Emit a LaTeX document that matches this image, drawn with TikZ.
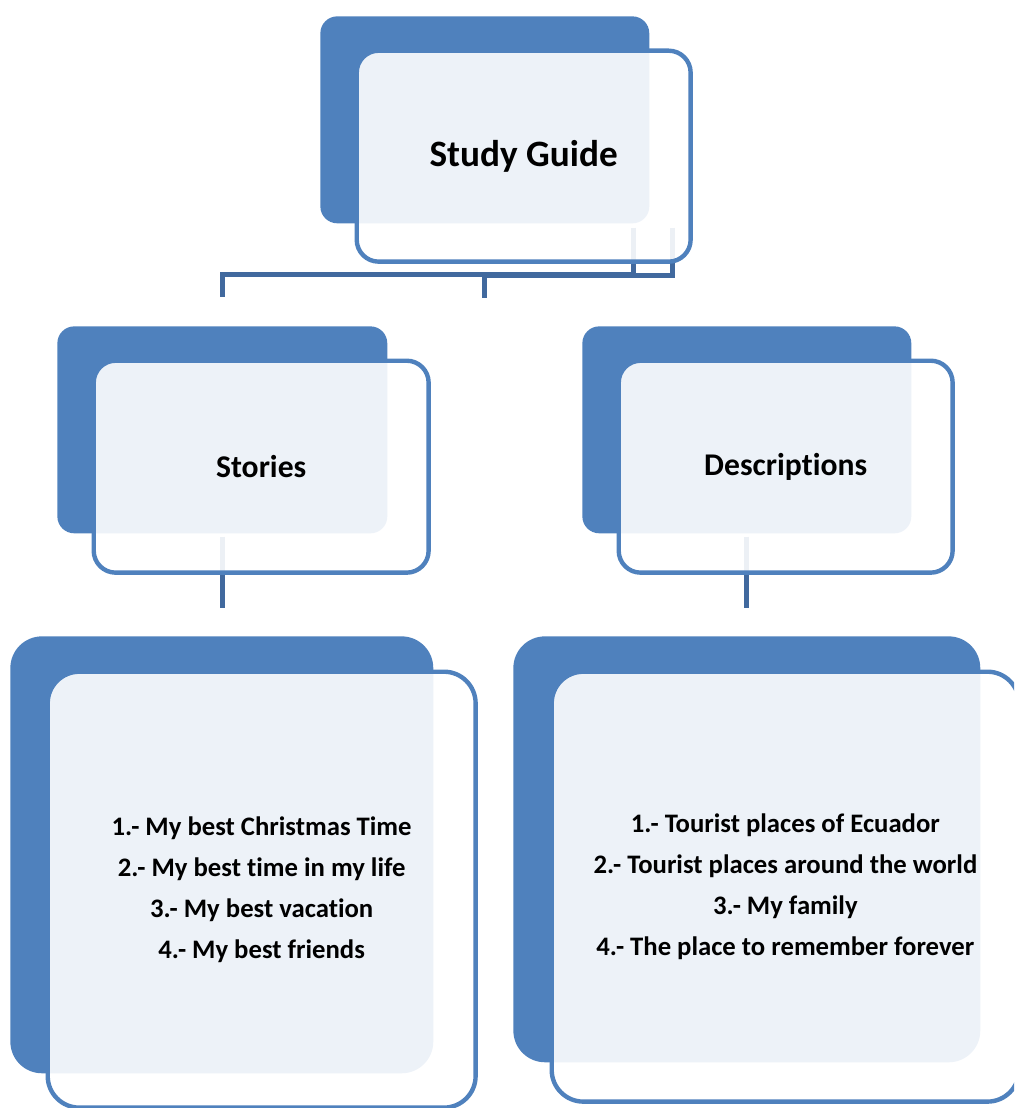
\documentclass[tikz,border=0pt]{standalone}
\usepackage{fontspec}
\setmainfont[Ligatures=NoCommon]{Carlito}
\usepackage{tikz}
\usetikzlibrary{positioning,calc}

\definecolor{boxblue}{HTML}{4F81BD}
\definecolor{linkblue}{HTML}{41699E}

\tikzset{
    backbox/.style={rectangle, fill=boxblue, anchor=north west, inner sep=0pt},
    frontbox/.style={rectangle, draw=boxblue, line width=2.5pt, fill=white, fill opacity=0.9,
        text opacity=1, anchor=north west, align=center, inner sep=0pt},
    link/.style={draw=linkblue, line width=2.9pt},
    titlefont/.style={font=\fontsize{21.2}{25}\selectfont\bfseries},
    headfont/.style={font=\fontsize{18}{22}\selectfont\bfseries},
    listfont/.style={font=\fontsize{15.2}{23.2}\selectfont\bfseries}
}

\begin{document}
\begin{tikzpicture}[x=0.02cm, y=-0.02cm]
    \useasboundingbox (0,0) rectangle (1014,1108);
    \clip (0,0) rectangle (1014,1108);

    % Back cards
    \node [backbox, rounded corners=9.6pt, minimum width=6.58cm, minimum height=4.14cm] (guideB) at (320,16) {};
    \node [backbox, rounded corners=9.6pt, minimum width=6.6cm, minimum height=4.14cm] (storiesB) at (57,326) {};
    \node [backbox, rounded corners=9.6pt, minimum width=6.58cm, minimum height=4.14cm] (descB) at (582,326) {};
    \node [backbox, rounded corners=18pt, minimum width=8.46cm, minimum height=8.74cm] (storiesListB) at (10,636) {};
    \node [backbox, rounded corners=18pt, minimum width=9.34cm, minimum height=8.52cm] (descListB) at (513,636) {};

    % Connectors
    \draw [link] ($(guideB.south)+(149,4)$) |- ($(storiesB.north)+(0,-51.5)$) -- ($(storiesB.north)+(0,-29)$);
    \draw [link] ($(guideB.south)+(188,4)$) |- ($(guideB.south)+(0,51.5)$) -- ($(guideB.south)+(0,74)$);
    \draw [link] ($(storiesB.south)+(0,3)$) -- ($(storiesB.south)+(0,74)$);
    \draw [link] ($(descB.south)+(0,3)$) -- ($(descB.south)+(0,74)$);

    % Front cards with text
    \node [frontbox, rounded corners=12.5pt, minimum width=6.68cm, minimum height=4.22cm, titlefont] (guide) at (354.5,48.5) {Study Guide};
    \node [frontbox, rounded corners=12.5pt, minimum width=6.7cm, minimum height=4.24cm, headfont] (stories) at (91.5,358.5) {Stories};
    \node [frontbox, rounded corners=12.5pt, minimum width=6.68cm, minimum height=4.24cm, headfont] (desc) at (616.5,358.5) {Descriptions};
    \node [frontbox, rounded corners=18pt, minimum width=8.56cm, minimum height=8.72cm, listfont] (storiesList) at (45.5,669.5)
        {1.- My best Christmas Time\\2.- My best time in my life\\3.- My best vacation\\4.- My best friends};
    \node [frontbox, rounded corners=18pt, minimum width=9.35cm, minimum height=8.6cm, listfont] (descList) at (549.5,669.5)
        {1.- Tourist places of Ecuador\\2.- Tourist places around the world\\3.- My family\\4.- The place to remember forever};
\end{tikzpicture}
\end{document}
